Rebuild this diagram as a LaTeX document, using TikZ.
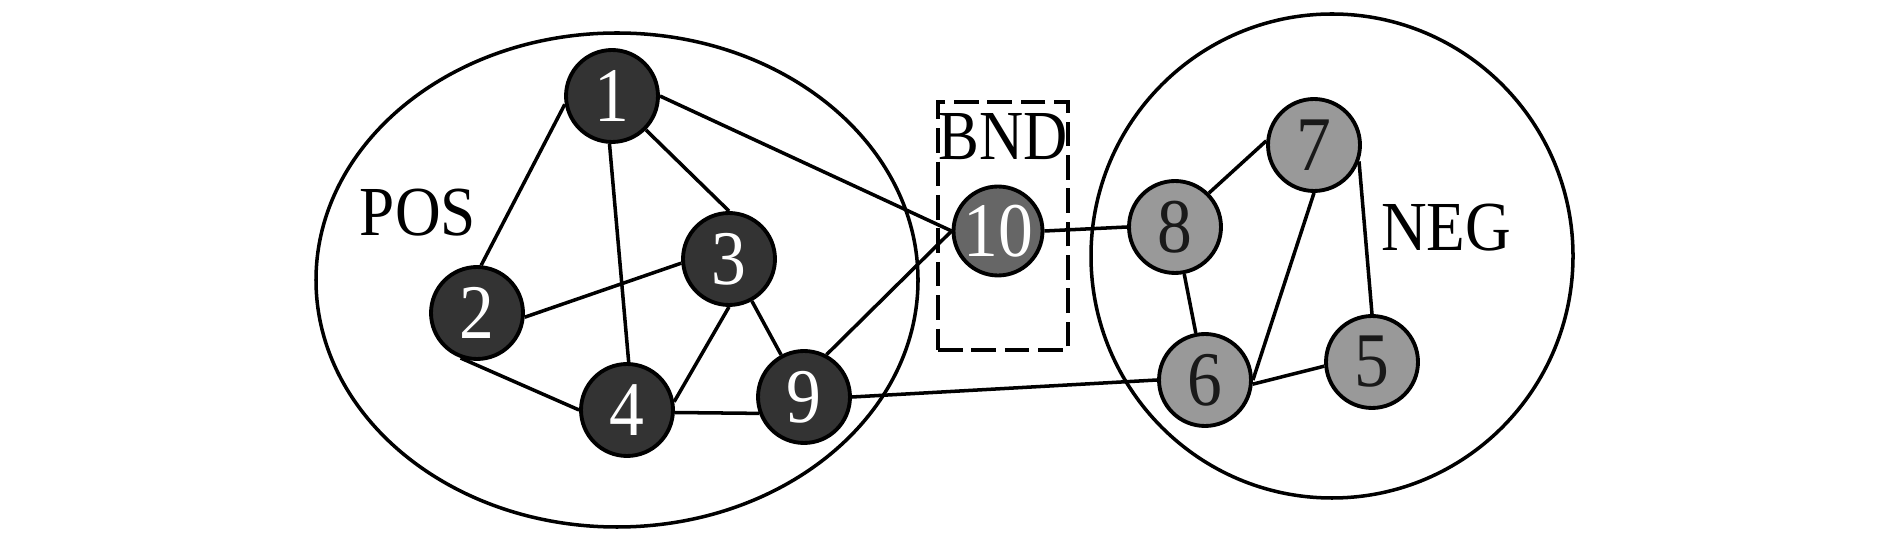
\documentclass[tikz,border=0pt]{standalone}
\usepackage{fontspec}
\usepackage{graphicx}
\setmainfont{Liberation Serif}
\newcommand{\sq}[1]{\scalebox{0.9}[1]{#1}}
\tikzset{
  px/.style={x=0.02cm,y=-0.02cm},
  vtx/.style={circle,draw=black,line width=2.2pt,minimum size=1.84cm,inner sep=0pt,font=\fontsize{44}{44}\selectfont},
  posv/.style={vtx,fill=black!80,text=white},
  bndv/.style={vtx,fill=black!60,text=white,minimum size=1.78cm},
  negv/.style={vtx,fill=black!40,text=black!90},
  edge/.style={line width=2pt},
  region/.style={draw=black,line width=2pt},
  lbl/.style={font=\fontsize{40}{40}\selectfont,inner sep=0pt},
}
\begin{document}
\begin{tikzpicture}[px]
\useasboundingbox (0,0) rectangle (1890,543);
\draw[region] (617,280) ellipse [x radius=301, y radius=247];
\draw[region] (1332,256) ellipse [x radius=241, y radius=242];
\node[draw=black,line width=2.2pt,dash pattern=on 14pt off 5pt,minimum width=2.6cm,minimum height=4.96cm,inner sep=0pt] (bndbox) at (1003,226) {};
\node[lbl] (pos) at (418,213) {\sq{POS}};
\node[lbl] (neg) at (1446,228) {\sq{NEG}};
\node[lbl] (bnd) at (1003,137) {\scalebox{0.87}[1]{BND}};
\node[posv] (n1) at (612,96) {\sq{1}};
\node[posv] (n2) at (477,313) {\sq{2}};
\node[posv] (n3) at (729,259) {\sq{3}};
\node[posv] (n4) at (627,410) {\sq{4}};
\node[posv] (n9) at (804,397) {\sq{9}};
\node[bndv] (n10) at (998,231) {\sq{10}};
\node[negv] (n8) at (1175,227) {\sq{8}};
\node[negv] (n7) at (1314,145) {\sq{7}};
\node[negv] (n6) at (1205,380) {\sq{6}};
\node[negv] (n5) at (1372,362) {\sq{5}};
\draw[edge] (n1.190) -- (n2.85);
\draw[edge] (n1.-93) -- (n4.88);
\draw[edge] (n1.-45) -- (n3.90);
\draw[edge] (n1.east) -- (n10.west);
\draw[edge] (n2.-5) -- (n3.185);
\draw[edge] (n2.-110) -- (n4.180);
\draw[edge] (n3.-90) -- (n4.10);
\draw[edge] (n3) -- (n9);
\draw[edge] (n4.-3) -- (n9.200);
\draw[edge] (n9.62) -- (n10.west);
\draw[edge] (n9.east) -- (n6.west);
\draw[edge] (n10.east) -- (n8.west);
\draw[edge] (n8.45) -- (n7.175);
\draw[edge] (n8) -- (n6);
\draw[edge] (n7.-90) -- (n6.east);
\draw[edge] (n7.-20) -- (n5.90);
\draw[edge] (n6.-5) -- (n5.185);
\end{tikzpicture}
\end{document}
